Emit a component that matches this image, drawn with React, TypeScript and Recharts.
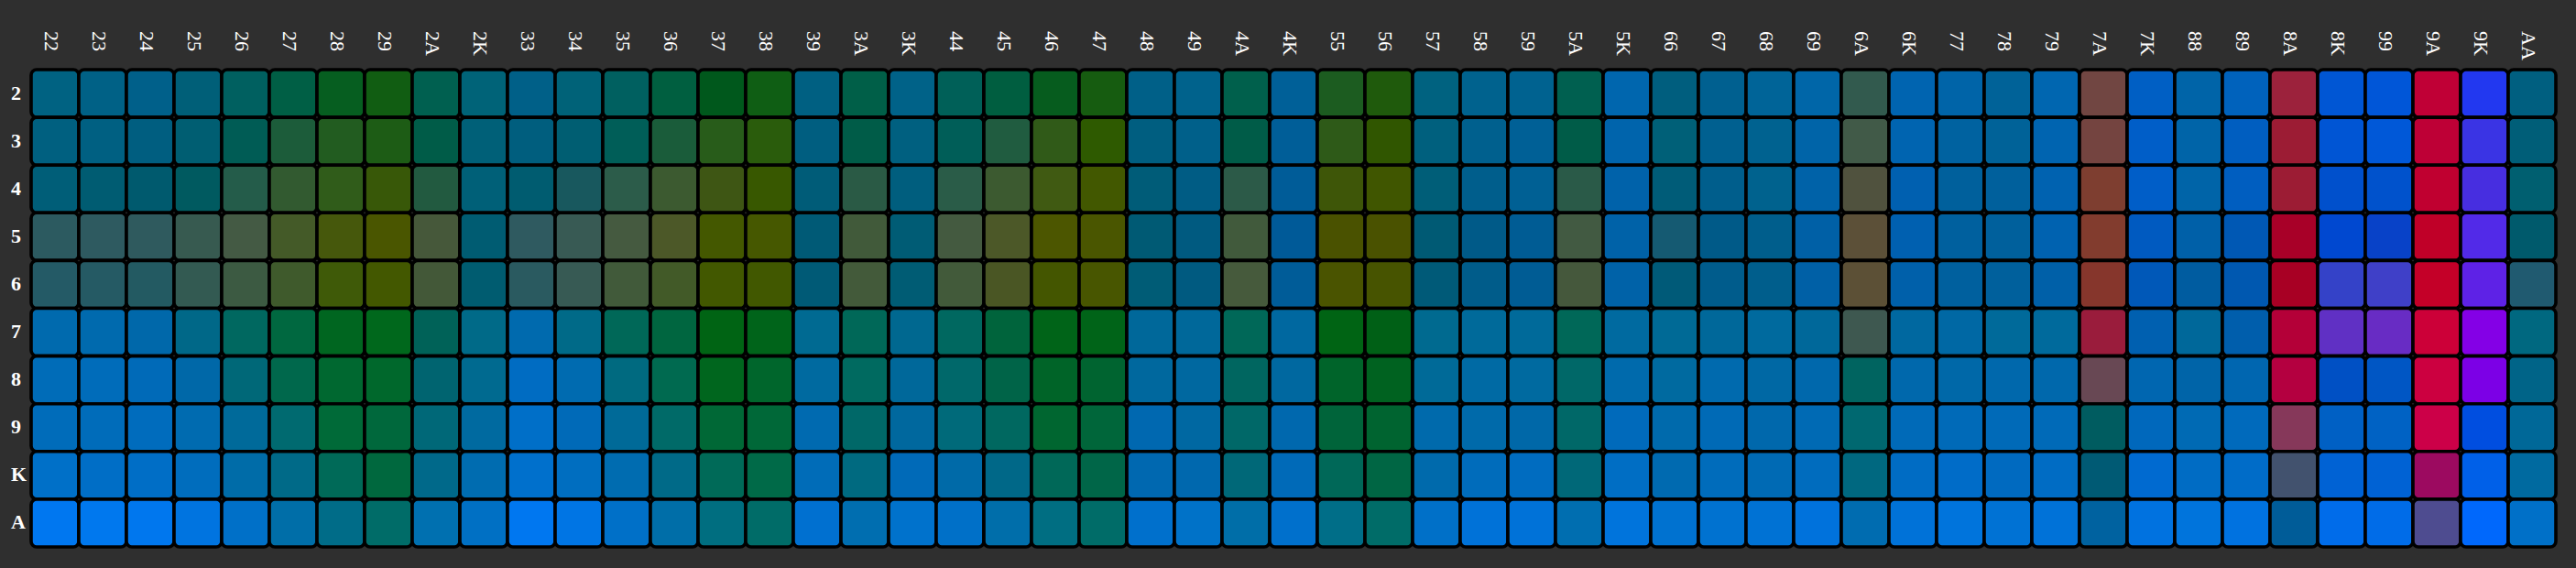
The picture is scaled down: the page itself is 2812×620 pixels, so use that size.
import React from 'react';
import { ScatterChart, Scatter, XAxis, YAxis } from 'recharts';

const handColumns = [
  '22', '23', '24', '25', '26', '27', '28', '29', '2A', '2K',
  '33', '34', '35', '36', '37', '38', '39', '3A', '3K',
  '44', '45', '46', '47', '48', '49', '4A', '4K',
  '55', '56', '57', '58', '59', '5A', '5K',
  '66', '67', '68', '69', '6A', '6K',
  '77', '78', '79', '7A', '7K',
  '88', '89', '8A', '8K',
  '99', '9A', '9K',
  'AA',
];

const dealerRows = ['2', '3', '4', '5', '6', '7', '8', '9', 'K', 'A'];

const colorsVs2 = [
  '#006282', '#006186', '#00608a', '#005f78', '#006060', '#005f45', '#065e20', '#115d12', '#006050',
  '#006378', '#006088', '#006278', '#006060', '#005f40', '#00581c', '#0f5e14', '#006082', '#005f48',
  '#006288', '#006058', '#005e40', '#065c1e', '#165c10', '#006088', '#00628c', '#00604c', '#006098',
  '#1c5c20', '#1f5a0c', '#006280', '#00628e', '#006290', '#006050', '#0066ae', '#005e7e', '#006090',
  '#006498', '#0066a8', '#325a4e', '#0064b0', '#0064a8', '#006298', '#0066b0', '#714642', '#005fc4',
  '#0064a8', '#0062bc', '#9c223c', '#0056d4', '#0056d8', '#c00036', '#2238f0', '#005f80',
];
const colorsVs3 = [
  '#006080', '#006082', '#005e80', '#005e72', '#005c55', '#1c5c3a', '#225c20', '#1d5c15', '#005c48',
  '#006078', '#005e7e', '#005e72', '#005e58', '#1a5c3a', '#285c1a', '#2a5c0c', '#005e80', '#005c48',
  '#006080', '#005e58', '#205c40', '#305a18', '#2e5a00', '#005e80', '#00608a', '#005c48', '#005e98',
  '#2e5a18', '#305600', '#00607e', '#00608e', '#006096', '#005c48', '#0064ac', '#006078', '#006090',
  '#006290', '#0064a8', '#415a48', '#0064b0', '#0062a0', '#006298', '#0064b0', '#744440', '#005ec8',
  '#0064a8', '#005ec0', '#9c1c34', '#0055d4', '#0058d8', '#be0036', '#3a34e4', '#005e78',
];
const colorsVs4 = [
  '#005e78', '#005c72', '#005a6e', '#005a60', '#245c4a', '#325a30', '#305c1a', '#385808', '#225a40',
  '#006078', '#005c70', '#18585e', '#2c5c4a', '#3c5a30', '#3e5614', '#385800', '#005c78', '#2a5a45',
  '#005e7e', '#2a5c48', '#3c5a30', '#405a12', '#425800', '#005c78', '#005c84', '#2c5a48', '#005c98',
  '#3e5608', '#405600', '#005e78', '#005e8c', '#006094', '#2a5a48', '#0062aa', '#005c78', '#005e8c',
  '#00628e', '#0062a8', '#50523e', '#0060b0', '#00609c', '#00609c', '#0062b0', '#7e3e30', '#005ec8',
  '#0064a8', '#005ec0', '#9c1c34', '#0050cc', '#0052cc', '#c00030', '#472ee0', '#005f70',
];
const colorsVs5 = [
  '#2c5a60', '#2e5a60', '#2f5a5e', '#375a50', '#445a44', '#445a28', '#46580c', '#4a5600', '#46583a',
  '#005c72', '#2f5a60', '#385a54', '#455a40', '#4c5828', '#445800', '#465800', '#005a76', '#415a3a',
  '#005c75', '#445a40', '#4c5828', '#4c5600', '#4a5600', '#005a74', '#005a80', '#415a3c', '#005a98',
  '#4a5200', '#4a5200', '#005a74', '#005a88', '#005c94', '#425a42', '#0062a8', '#155a72', '#005a88',
  '#005e8c', '#0060a6', '#5c5038', '#0060b0', '#00609e', '#00609c', '#0062b0', '#823c2e', '#005ac0',
  '#0060a8', '#0058b4', '#a80028', '#0048d0', '#0842c8', '#c00028', '#522ae8', '#005a6c',
];
const colorsVs6 = [
  '#245a66', '#255a64', '#235a62', '#335a52', '#3c5a42', '#3f5a2c', '#3f5a08', '#435800', '#435838',
  '#005c70', '#2a5a60', '#375a54', '#415a3a', '#425a28', '#425800', '#415800', '#005a76', '#435a3a',
  '#005c74', '#425a3a', '#4a5624', '#445600', '#485600', '#005c76', '#005a80', '#465a3c', '#005c98',
  '#4a5400', '#475400', '#005a78', '#005c8a', '#005c94', '#45583c', '#0062a8', '#005a78', '#005c8c',
  '#005e8c', '#0060a6', '#5c5036', '#0060aa', '#00609e', '#00609c', '#0060a8', '#86362c', '#0058b8',
  '#005ca0', '#0058b0', '#a80024', '#3442c8', '#3f40c8', '#c40028', '#5e22e6', '#205a70',
];
const colorsVs7 = [
  '#006aae', '#006aae', '#0068aa', '#006888', '#006860', '#006840', '#006620', '#00681c', '#006258',
  '#006a88', '#006aae', '#006a88', '#006858', '#006640', '#006414', '#00641a', '#006a92', '#006858',
  '#006890', '#006860', '#00643c', '#006418', '#006418', '#00689a', '#00689a', '#006858', '#0068a0',
  '#006414', '#006016', '#006a90', '#006a9a', '#006a9a', '#006858', '#006aa0', '#006a96', '#00689a',
  '#006a9e', '#00689a', '#3e5850', '#0068a0', '#0068a4', '#006a9a', '#006a9c', '#9a1c3c', '#0060b0',
  '#00689a', '#005eac', '#b40038', '#6030c4', '#682cc4', '#cc0038', '#8400e6', '#006880',
];
const colorsVs8 = [
  '#006cb8', '#006cba', '#006ab8', '#0068a8', '#006878', '#00684c', '#006830', '#00682c', '#006470',
  '#006a90', '#006cc2', '#006bb0', '#006a80', '#006a50', '#00661e', '#00662c', '#006aa0', '#006a60',
  '#00689a', '#00686a', '#006448', '#006428', '#006430', '#00689e', '#0068a0', '#006660', '#0068a0',
  '#00642a', '#006220', '#006a98', '#006aa4', '#006aa0', '#006868', '#006aac', '#006aa0', '#006aae',
  '#0068a4', '#0068ac', '#006460', '#0068ac', '#0068a8', '#0068ac', '#0068ac', '#684854', '#0066b0',
  '#0064a8', '#0066b0', '#b40040', '#0050c4', '#0056c4', '#cc0040', '#7c00e6', '#006488',
];
const colorsVs9 = [
  '#006cba', '#006cba', '#006cbd', '#006bb0', '#006a9a', '#006a70', '#006a38', '#00683c', '#006878',
  '#006aa0', '#006fc8', '#006ab8', '#006a98', '#006a68', '#006836', '#006838', '#006ab0', '#006868',
  '#00689e', '#006a7a', '#006860', '#006630', '#00663a', '#0068b0', '#0068a2', '#006868', '#0068ae',
  '#00643a', '#006430', '#006aac', '#006aaa', '#0068a8', '#006868', '#006abb', '#006aac', '#006ab6',
  '#0068ac', '#006ab4', '#006870', '#006ab8', '#006ab8', '#006ab8', '#006ab8', '#005c60', '#0068bc',
  '#006ab4', '#006abc', '#86385a', '#0060c4', '#0062c4', '#cc0048', '#004ee0', '#006898',
];
const colorsVsK = [
  '#0070c8', '#006ec6', '#006ec6', '#006dbd', '#006ca8', '#006a88', '#006a58', '#00683e', '#00698a',
  '#006cb0', '#0070cc', '#006ec0', '#006cb0', '#006a88', '#006a58', '#006a48', '#006cb8', '#006a80',
  '#006ab8', '#006aa8', '#006888', '#006858', '#006648', '#0068b0', '#0068ae', '#006878', '#006ab8',
  '#006858', '#006644', '#006aac', '#006cbb', '#006cc0', '#006878', '#006ec4', '#006ab0', '#006cbb',
  '#006ab4', '#006cbe', '#006880', '#006cc4', '#006cc8', '#006ac0', '#006cc4', '#005a74', '#006ad0',
  '#006cc4', '#006cc8', '#42526e', '#0062d4', '#0062d4', '#9c0a60', '#0060e8', '#006aa0',
];
const colorsVsA = [
  '#0077f0', '#0078ee', '#0077ee', '#0074e0', '#0070c8', '#006ea8', '#006c88', '#006c68', '#0070b0',
  '#0070c4', '#0077f0', '#0075e4', '#0070c8', '#006ea8', '#006e80', '#006c68', '#0070d0', '#006eb0',
  '#0072cc', '#0070c8', '#006eaa', '#006e82', '#006c68', '#0070cc', '#0072c8', '#006ea8', '#0070cc',
  '#006e88', '#006c68', '#0070c8', '#0072d8', '#0072d8', '#006eb0', '#0074dc', '#0072d0', '#0072d0',
  '#0072d4', '#0072dc', '#006cb0', '#0072d8', '#0074dc', '#0072d4', '#0072d8', '#0062a0', '#0072e0',
  '#0074dc', '#0072e0', '#005c98', '#006cea', '#006ce8', '#4e4c90', '#0068fc', '#0070c8',
];

const colorRows = [
  colorsVs2, colorsVs3, colorsVs4, colorsVs5, colorsVs6,
  colorsVs7, colorsVs8, colorsVs9, colorsVsK, colorsVsA,
];

const cells = dealerRows.flatMap((dealer, ri) =>
  handColumns.map((hand, ci) => ({ hand, dealer, color: colorRows[ri][ci] }))
);

const W = 2812;
const H = 620;
const MARGIN = { top: 0, right: 22, bottom: 23, left: 0 };
const X_AXIS_H = 76;
const Y_AXIS_W = 34;
const PLOT_W = W - MARGIN.left - MARGIN.right - Y_AXIS_W;
const PLOT_H = H - MARGIN.top - MARGIN.bottom - X_AXIS_H;
const CELL_W = PLOT_W / handColumns.length;
const CELL_H = PLOT_H / dealerRows.length;
const FONT = '"Liberation Serif", "Times New Roman", serif';

const CellShape = (props: any) => {
  const { cx, cy, payload } = props;
  if (cx == null || cy == null) return null;
  return (
    <rect
      x={cx - CELL_W / 2}
      y={cy - CELL_H / 2}
      width={CELL_W}
      height={CELL_H}
      rx={6}
      ry={6}
      fill={payload.color}
      stroke="#000"
      strokeWidth={3.6}
    />
  );
};

const ColTick = (props: any) => {
  const { x, payload } = props;
  const bx = x - 11.5;
  const by = 34;
  return (
    <text
      x={bx}
      y={by}
      transform={`rotate(90, ${bx}, ${by})`}
      fill="#ffffff"
      fontSize={22}
      fontFamily={FONT}
      textAnchor="start"
    >
      {payload.value}
    </text>
  );
};

const RowTick = (props: any) => {
  const { y, payload } = props;
  return (
    <text
      x={12}
      y={y + 6.5}
      fill="#ffffff"
      fontSize={22}
      fontWeight="bold"
      fontFamily={FONT}
      textAnchor="start"
    >
      {payload.value}
    </text>
  );
};

export default function App() {
  return (
    <div
      style={{
        position: 'fixed',
        left: 0,
        top: 0,
        width: W,
        height: H,
        background: '#2f2f2f',
        overflow: 'hidden',
      }}
    >
      <ScatterChart width={W} height={H} margin={MARGIN}>
        <XAxis
          dataKey="hand"
          type="category"
          orientation="top"
          allowDuplicatedCategory={false}
          height={X_AXIS_H}
          interval={0}
          tickLine={false}
          axisLine={false}
          tick={<ColTick />}
        />
        <YAxis
          dataKey="dealer"
          type="category"
          allowDuplicatedCategory={false}
          width={Y_AXIS_W}
          interval={0}
          reversed
          tickLine={false}
          axisLine={false}
          tick={<RowTick />}
        />
        <Scatter data={cells} shape={<CellShape />} isAnimationActive={false} />
      </ScatterChart>
    </div>
  );
}
